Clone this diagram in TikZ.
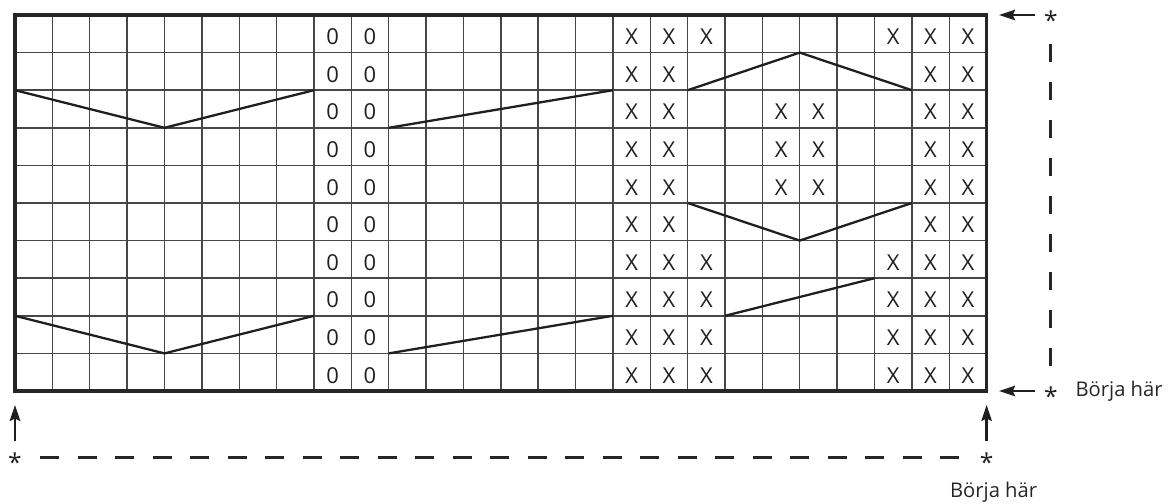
\documentclass[tikz,border=0pt]{standalone}
\usepackage{fontspec}
\setmainfont{Open Sans}
\usetikzlibrary{positioning, arrows.meta}

\begin{document}
\begin{tikzpicture}[
    x=0.7474cm, y=-0.752cm,
    gridline/.style={draw=black!72, line width=0.8pt},
    frame/.style={draw=black!85, line width=1.8pt},
    cable/.style={draw=black!88, line width=1.3pt},
    sym/.style={inner sep=0, yshift=-0.06cm, text=black!88, font=\fontsize{12.5}{12.5}\selectfont},
    star/.style={circle, inner sep=0, minimum size=0.64cm, text height=0pt, text depth=0pt, text=black!88, font=\fontsize{14}{14}\selectfont},
    note/.style={inner sep=0, text=black!85, font=\fontsize{11.5}{12}\selectfont},
    arrow/.style={-{Stealth[length=0.32cm, width=0.21cm, inset=0.05cm]}, line width=1.3pt, draw=black!88},
    guide/.style={draw=black!85, line width=1.8pt}
]
\useasboundingbox (-0.4014,-0.3989) rectangle (30.934,12.979);

% Grid
\foreach \i in {0,...,26}
  \draw[gridline] (\i,0) -- (\i,10);
\foreach \j in {0,...,10}
  \draw[gridline] (0,\j) -- (26,\j);
\draw[frame] (0,0) rectangle (26,10);

% Marks
\foreach \r in {0,...,9} {
  \node[sym] (o8-\r) at (8.5,\r+0.5) {0};
  \node[sym] (o9-\r) at (9.5,\r+0.5) {0};
}
\foreach \r/\cols in {0/{16,17,18,23,24,25}, 1/{16,17,24,25}, 2/{16,17,20,21,24,25},
    3/{16,17,20,21,24,25}, 4/{16,17,20,21,24,25}, 5/{16,17,24,25},
    6/{16,17,18,23,24,25}, 7/{16,17,18,23,24,25}, 8/{16,17,18,23,24,25}, 9/{16,17,18,23,24,25}}
  \foreach \c in \cols
    \node[sym] (x\c-\r) at (\c+0.5,\r+0.5) {X};

% Cables
\draw[cable] (0,2) -- (4,3) -- (8,2);
\draw[cable] (0,8) -- (4,9) -- (8,8);
\draw[cable] (10,3) -- (16,2);
\draw[cable] (10,9) -- (16,8);
\draw[cable] (18,2) -- (21,1) -- (24,2);
\draw[cable] (18,5) -- (21,6) -- (24,5);
\draw[cable] (19,8) -- (23,7);

% Corners
\coordinate (tr) at (26,0);
\coordinate (br) at (26,10);
\coordinate (bl) at (0,10);

% Notes
\node[star] (sTop) at (27.72,0) {\raisebox{-0.6em}{*}};
\node[star] (sRight) at (27.72,10) {\raisebox{-0.6em}{*}};
\node[note, right=0.16cm of sRight] (startRow) {Börja här};
\node[star] (sLeft) at (0,11.76) {\raisebox{-0.6em}{*}};
\node[star] (sBottom) at (26,11.76) {\raisebox{-0.6em}{*}};
\node[note, below=0.16cm of sBottom, xshift=0.14cm] (startCol) {Börja här};

% Edges
\draw[arrow, shorten >=0.25cm] (sTop) -- (tr);
\draw[arrow, shorten >=0.25cm] (sRight) -- (br);
\draw[arrow, shorten >=0.28cm] (sLeft) -- (bl);
\draw[arrow, shorten >=0.28cm] (sBottom) -- (br);
\draw[guide, dash pattern=on 0.36cm off 0.4cm, shorten <=0.26cm, shorten >=0.16cm] (sTop) -- (sRight);
\draw[guide, dash pattern=on 0.38cm off 0.37cm, shorten <=0.18cm, shorten >=0.2cm] (sLeft) -- (sBottom);

\end{tikzpicture}
\end{document}
